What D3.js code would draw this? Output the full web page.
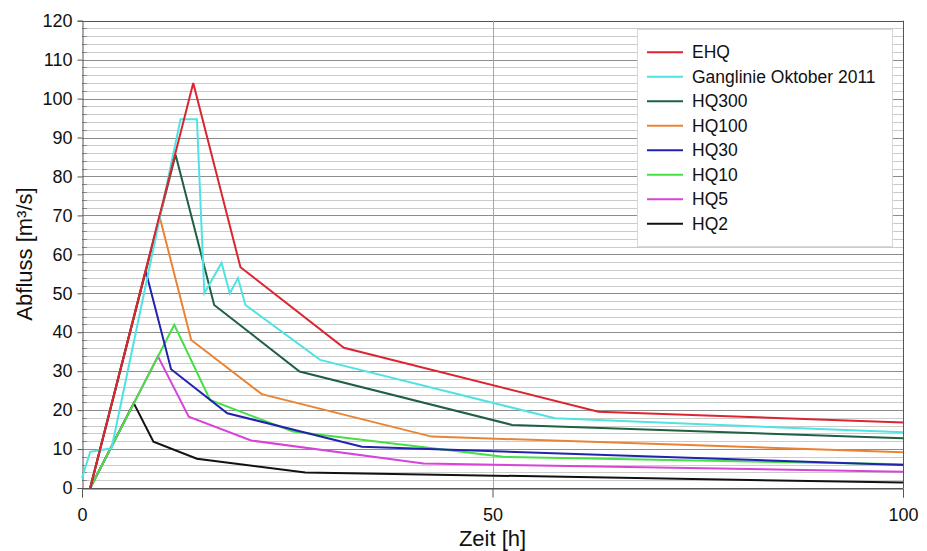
<!DOCTYPE html>
<html>
<head>
<meta charset="utf-8">
<title>Abfluss Ganglinien</title>
<script src="https://d3js.org/d3.v7.min.js"></script>
<style>
    body { margin: 0; background: #fff; }
    svg { font-family: "Liberation Sans", Arial, sans-serif; }
    .tick text { font-size: 18px; fill: #111; }
    .legend text { font-size: 17.5px; fill: #111; }
</style>
</head>
<body>
<script>
    // Hochwasser-Ganglinien [Zeit h, Abfluss m3/s]
    var ehq       = [[1,0],[13.55,104],[19.3,56.7],[31.9,36],[62.9,19.6],[100,16.8]];
    var ganglinie = [[0,2.5],[1,9.3],[3.6,10.2],[12,94.7],[14,94.7],[14.9,50],[17,57.8],[18,50],[19,53.9],[19.9,47],[29,32.9],[57.6,17.9],[100,14.3]];
    var hq300     = [[1,0],[11.4,85.6],[16.1,47],[26.5,29.9],[52.4,16.2],[100,12.8]];
    var hq100     = [[1,0],[9.45,69.7],[13.3,38],[21.9,24.1],[42.6,13.2],[100,9.2]];
    var hq30      = [[1,0],[7.75,55.8],[10.85,30.5],[17.7,19.2],[34.1,10.6],[100,5.9]];
    var hq10      = [[1,0],[11.24,41.9],[15.6,22.6],[25.7,14.5],[51.3,8.0],[100,6.1]];
    var hq5       = [[1,0],[9.25,33.8],[13,18.3],[20.6,12.2],[41.6,6.3],[100,4.2]];
    var hq2       = [[1,0],[6.3,21.8],[8.7,11.9],[14,7.5],[27.2,4.0],[100,1.4]];

    var seriesNames  = ["EHQ", "Ganglinie Oktober 2011", "HQ300", "HQ100", "HQ30", "HQ10", "HQ5", "HQ2"];
    var seriesData   = [ehq, ganglinie, hq300, hq100, hq30, hq10, hq5, hq2];
    var seriesColors = ["#dc2530", "#4fe3e3", "#1f5f43", "#ea8434", "#2222b0", "#44e044", "#d843d8", "#111111"];

    var xTicks = [0, 50, 100];
    var yMajor = d3.range(0, 121, 10);
    var yMinor = d3.range(0, 121, 2);

    var width = 927, height = 551;
    var plotLeft = 82, plotRight = 903, plotTop = 20.7, plotBottom = 488;

    var x = d3.scaleLinear().domain([0, 100]).range([plotLeft, plotRight]);
    var y = d3.scaleLinear().domain([0, 120]).range([plotBottom, plotTop]);

    var svg = d3.select("body").append("svg")
        .attr("width", width)
        .attr("height", height);

    function crisp(v) { return Math.round(v) + 0.5; }

    var minorOnly = yMinor.filter(function(d) { return d % 10 != 0; });

    // minor grid
    svg.append("g").selectAll("line")
        .data(minorOnly)
        .enter().append("line")
        .attr("x1", plotLeft).attr("x2", plotRight)
        .attr("y1", function(d) { return crisp(y(d)); })
        .attr("y2", function(d) { return crisp(y(d)); })
        .attr("stroke", "#cbcbcb");

    // minor ticks (inside)
    svg.append("g").selectAll("line")
        .data(minorOnly)
        .enter().append("line")
        .attr("x1", plotLeft).attr("x2", plotLeft + 5)
        .attr("y1", function(d) { return crisp(y(d)); })
        .attr("y2", function(d) { return crisp(y(d)); })
        .attr("stroke", "#888");

    // major grid
    svg.append("g").selectAll("line")
        .data(yMajor)
        .enter().append("line")
        .attr("x1", plotLeft).attr("x2", plotRight)
        .attr("y1", function(d) { return crisp(y(d)); })
        .attr("y2", function(d) { return crisp(y(d)); })
        .attr("stroke", function(d) { return d == 120 || d == 0 ? "#555" : "#8c8c8c"; });

    // vertical grid at 50
    svg.append("line")
        .attr("x1", crisp(x(50))).attr("x2", crisp(x(50)))
        .attr("y1", plotTop).attr("y2", plotBottom)
        .attr("stroke", "#a8a8a8");

    // axes
    var yAxis = d3.axisLeft(y).tickValues(yMajor).tickSize(5).tickPadding(5);
    var gy = svg.append("g")
        .attr("transform", "translate(" + crisp(plotLeft) + ",0)")
        .call(yAxis);
    gy.select(".domain").attr("stroke", "#555");
    gy.selectAll(".tick line").attr("stroke", "#555");

    var xAxis = d3.axisBottom(x).tickValues(xTicks).tickSize(9).tickPadding(11);
    var gx = svg.append("g")
        .attr("transform", "translate(0," + crisp(plotBottom) + ")")
        .call(xAxis);
    gx.select(".domain").attr("stroke", "#555");
    gx.selectAll(".tick line").attr("stroke", "#555");

    // right border
    svg.append("line")
        .attr("x1", crisp(plotRight)).attr("x2", crisp(plotRight))
        .attr("y1", plotTop).attr("y2", plotBottom)
        .attr("stroke", "#555");

    // lines
    var line = d3.line()
        .x(function(d) { return x(d[0]); })
        .y(function(d) { return y(d[1]); });

    svg.append("g").selectAll("path")
        .data(seriesData.slice().reverse())
        .enter().append("path")
        .attr("d", line)
        .attr("fill", "none")
        .attr("stroke-width", 2)
        .attr("stroke", function(d, i) { return seriesColors[seriesData.length - 1 - i]; });

    // legend
    var legend = svg.append("g").attr("class", "legend");
    legend.append("rect")
        .attr("x", 637.5).attr("y", 29.5)
        .attr("width", 255).attr("height", 217)
        .attr("fill", "#fff")
        .attr("stroke", "#d8d8d8");

    var items = legend.selectAll("g.item")
        .data(seriesNames)
        .enter().append("g")
        .attr("class", "item")
        .attr("transform", function(d, i) { return "translate(0," + (52.3 + i * 24.5) + ")"; });

    items.append("line")
        .attr("x1", 647).attr("x2", 683)
        .attr("stroke-width", 2)
        .attr("stroke", function(d, i) { return seriesColors[i]; });

    items.append("text")
        .attr("x", 692)
        .attr("dy", "0.35em")
        .text(function(d) { return d; });

    // axis titles
    svg.append("text")
        .attr("x", x(50))
        .attr("y", 546)
        .attr("text-anchor", "middle")
        .attr("font-size", 22)
        .attr("fill", "#111")
        .text("Zeit [h]");

    svg.append("text")
        .attr("transform", "translate(32," + 254 + ") rotate(-90)")
        .attr("text-anchor", "middle")
        .attr("font-size", 22)
        .attr("fill", "#111")
        .text("Abfluss [m³/s]");
</script>
</body>
</html>
